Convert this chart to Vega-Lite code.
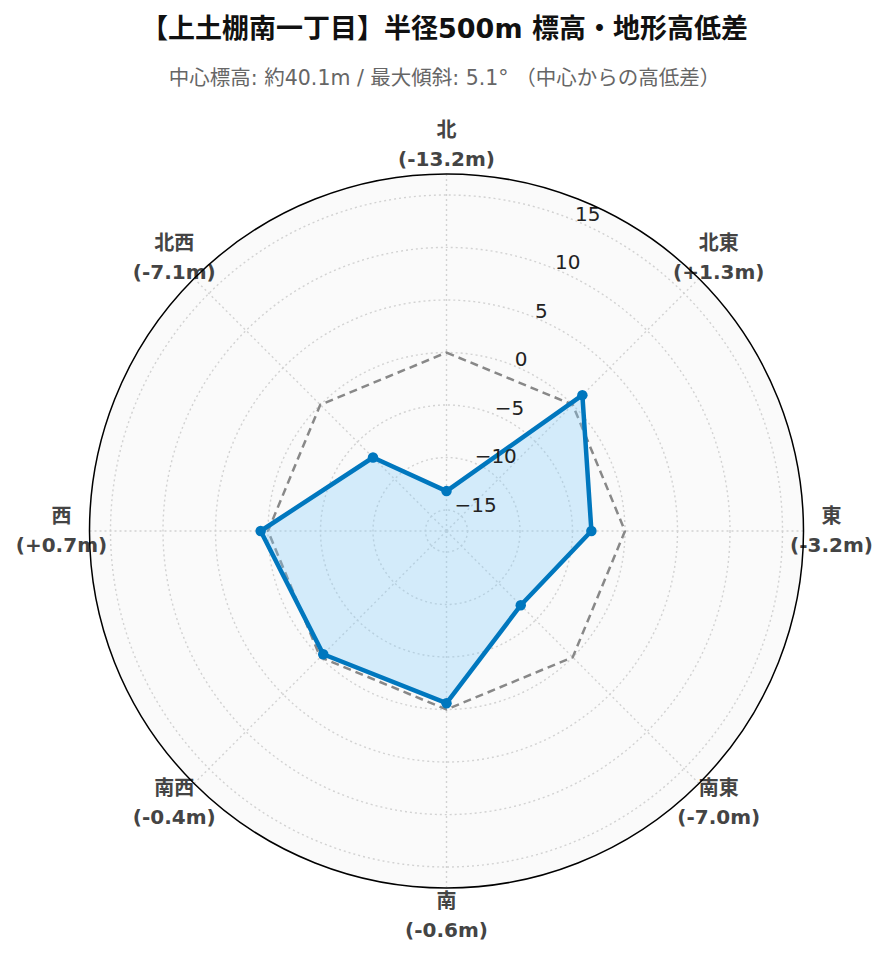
{
  "$schema": "https://vega.github.io/schema/vega-lite/v6.json",
  "width": 889,
  "height": 862,
  "autosize": {"type": "none"},
  "padding": {"top": 100, "left": 0, "right": 0, "bottom": 0},
  "background": "white",
  "config": {"view": {"stroke": null}, "font": "DejaVu Sans"},
  "title": {
    "text": "【上土棚南一丁目】半径500m 標高・地形高低差",
    "subtitle": "中心標高: 約40.1m / 最大傾斜: 5.1° （中心からの高低差）",
    "anchor": "middle",
    "font": "DejaVu Sans, Noto Sans CJK JP",
    "fontSize": 27,
    "fontWeight": "bold",
    "color": "#111111",
    "subtitleFont": "DejaVu Sans, Noto Sans CJK JP",
    "subtitleFontSize": 20.5,
    "subtitleColor": "#666666",
    "subtitlePadding": 25,
    "offset": 10
  },
  "datasets": {
    "dirs": [
      {"dir": "北", "angle": 0, "value": -13.2, "ref": 0, "label": "(-13.2m)"},
      {"dir": "北東", "angle": 45, "value": 1.3, "ref": 0, "label": "(+1.3m)"},
      {"dir": "東", "angle": 90, "value": -3.2, "ref": 0, "label": "(-3.2m)"},
      {"dir": "南東", "angle": 135, "value": -7.0, "ref": 0, "label": "(-7.0m)"},
      {"dir": "南", "angle": 180, "value": -0.6, "ref": 0, "label": "(-0.6m)"},
      {"dir": "南西", "angle": 225, "value": -0.4, "ref": 0, "label": "(-0.4m)"},
      {"dir": "西", "angle": 270, "value": 0.7, "ref": 0, "label": "(+0.7m)"},
      {"dir": "北西", "angle": 315, "value": -7.1, "ref": 0, "label": "(-7.1m)"}
    ],
    "ticks": [
      {"tick": -15, "label": "−15"},
      {"tick": -10, "label": "−10"},
      {"tick": -5, "label": "−5"},
      {"tick": 0, "label": "0"},
      {"tick": 5, "label": "5"},
      {"tick": 10, "label": "10"},
      {"tick": 15, "label": "15"}
    ],
    "rim": [{"edge": 17}]
  },
  "layer": [
    {
      "data": {"name": "rim"},
      "transform": [
        {"calculate": "datum.edge + 17", "as": "r"},
        {"calculate": "datum.r * datum.r", "as": "r2"},
        {"calculate": "0", "as": "cx"}
      ],
      "mark": {"type": "point", "shape": "circle", "filled": true, "fill": "#fafafa", "opacity": 1, "strokeWidth": 0},
      "encoding": {
        "x": {"field": "cx", "type": "quantitative", "scale": {"domain": [-42.524, 42.143], "nice": false, "zero": false}, "axis": null},
        "y": {"field": "cx", "type": "quantitative", "scale": {"domain": [-41.048, 41.048], "nice": false, "zero": false}, "axis": null},
        "size": {"field": "r2", "type": "quantitative", "scale": {"type": "linear", "domain": [0, 1200], "range": [0, 529200], "zero": true}, "legend": null}
      }
    },
    {
      "data": {"name": "ticks"},
      "transform": [
        {"calculate": "datum.tick + 17", "as": "r"},
        {"calculate": "datum.r * datum.r", "as": "r2"},
        {"calculate": "0", "as": "cx"}
      ],
      "mark": {"type": "point", "shape": "circle", "filled": false, "stroke": "#d2d2d2", "strokeWidth": 1.4, "strokeDash": [2, 3], "opacity": 1},
      "encoding": {
        "x": {"field": "cx", "type": "quantitative", "scale": {"domain": [-42.524, 42.143], "nice": false, "zero": false}, "axis": null},
        "y": {"field": "cx", "type": "quantitative", "scale": {"domain": [-41.048, 41.048], "nice": false, "zero": false}, "axis": null},
        "size": {"field": "r2", "type": "quantitative", "scale": {"type": "linear", "domain": [0, 1200], "range": [0, 529200], "zero": true}, "legend": null}
      }
    },
    {
      "data": {"name": "dirs"},
      "transform": [
        {"calculate": "datum.angle * PI / 180", "as": "rad"},
        {"calculate": "34 * sin(datum.rad)", "as": "xs"},
        {"calculate": "34 * cos(datum.rad)", "as": "ys"},
        {"calculate": "0", "as": "cx"}
      ],
      "mark": {"type": "rule", "stroke": "#d2d2d2", "strokeWidth": 1.4, "strokeDash": [2, 3]},
      "encoding": {
        "x": {"field": "cx", "type": "quantitative", "scale": {"domain": [-42.524, 42.143], "nice": false, "zero": false}, "axis": null},
        "y": {"field": "cx", "type": "quantitative", "scale": {"domain": [-41.048, 41.048], "nice": false, "zero": false}, "axis": null},
        "x2": {"field": "xs"},
        "y2": {"field": "ys"}
      }
    },
    {
      "data": {"name": "dirs"},
      "transform": [
        {"calculate": "datum.angle * PI / 180", "as": "rad"},
        {"calculate": "(datum.ref + 17) * sin(datum.rad)", "as": "px"},
        {"calculate": "(datum.ref + 17) * cos(datum.rad)", "as": "py"}
      ],
      "mark": {"type": "line", "interpolate": "linear-closed", "stroke": "#888888", "strokeWidth": 2.5, "strokeDash": [8, 5]},
      "encoding": {
        "x": {"field": "px", "type": "quantitative", "scale": {"domain": [-42.524, 42.143], "nice": false, "zero": false}, "axis": null},
        "y": {"field": "py", "type": "quantitative", "scale": {"domain": [-41.048, 41.048], "nice": false, "zero": false}, "axis": null},
        "order": {"field": "angle", "type": "quantitative"}
      }
    },
    {
      "data": {"name": "dirs"},
      "transform": [
        {"calculate": "datum.angle * PI / 180", "as": "rad"},
        {"calculate": "(datum.value + 17) * sin(datum.rad)", "as": "px"},
        {"calculate": "(datum.value + 17) * cos(datum.rad)", "as": "py"}
      ],
      "mark": {"type": "line", "interpolate": "linear-closed", "stroke": "#0077be", "strokeWidth": 4.5, "fill": "#87cefa", "fillOpacity": 0.34, "strokeJoin": "round"},
      "encoding": {
        "x": {"field": "px", "type": "quantitative", "scale": {"domain": [-42.524, 42.143], "nice": false, "zero": false}, "axis": null},
        "y": {"field": "py", "type": "quantitative", "scale": {"domain": [-41.048, 41.048], "nice": false, "zero": false}, "axis": null},
        "order": {"field": "angle", "type": "quantitative"}
      }
    },
    {
      "data": {"name": "dirs"},
      "transform": [
        {"calculate": "datum.angle * PI / 180", "as": "rad"},
        {"calculate": "(datum.value + 17) * sin(datum.rad)", "as": "px"},
        {"calculate": "(datum.value + 17) * cos(datum.rad)", "as": "py"}
      ],
      "mark": {"type": "point", "shape": "circle", "filled": true, "color": "#0077be", "opacity": 1, "size": 110},
      "encoding": {
        "x": {"field": "px", "type": "quantitative", "scale": {"domain": [-42.524, 42.143], "nice": false, "zero": false}, "axis": null},
        "y": {"field": "py", "type": "quantitative", "scale": {"domain": [-41.048, 41.048], "nice": false, "zero": false}, "axis": null}
      }
    },
    {
      "data": {"name": "ticks"},
      "transform": [
        {"calculate": "datum.tick + 17", "as": "r"},
        {"calculate": "datum.r * sin(PI / 8)", "as": "tx"},
        {"calculate": "datum.r * cos(PI / 8)", "as": "ty"}
      ],
      "mark": {"type": "text", "align": "left", "baseline": "alphabetic", "fontSize": 20, "color": "#222222", "font": "DejaVu Sans"},
      "encoding": {
        "x": {"field": "tx", "type": "quantitative", "scale": {"domain": [-42.524, 42.143], "nice": false, "zero": false}, "axis": null},
        "y": {"field": "ty", "type": "quantitative", "scale": {"domain": [-41.048, 41.048], "nice": false, "zero": false}, "axis": null},
        "text": {"field": "label", "type": "nominal"}
      }
    },
    {
      "data": {"name": "dirs"},
      "transform": [
        {"calculate": "datum.angle * PI / 180", "as": "rad"},
        {"calculate": "36.67 * sin(datum.rad)", "as": "lx"},
        {"calculate": "36.67 * cos(datum.rad)", "as": "ly"},
        {"calculate": "datum.dir + '\\n' + datum.label", "as": "txt"}
      ],
      "mark": {"type": "text", "align": "center", "baseline": "middle", "lineBreak": "\n", "lineHeight": 29, "dy": -14.5, "fontSize": 20, "fontWeight": "bold", "color": "#444444", "font": "DejaVu Sans, Noto Sans CJK JP"},
      "encoding": {
        "x": {"field": "lx", "type": "quantitative", "scale": {"domain": [-42.524, 42.143], "nice": false, "zero": false}, "axis": null},
        "y": {"field": "ly", "type": "quantitative", "scale": {"domain": [-41.048, 41.048], "nice": false, "zero": false}, "axis": null},
        "text": {"field": "txt", "type": "nominal"}
      }
    },
    {
      "data": {"name": "rim"},
      "transform": [
        {"calculate": "datum.edge + 17", "as": "r"},
        {"calculate": "datum.r * datum.r", "as": "r2"},
        {"calculate": "0", "as": "cx"}
      ],
      "mark": {"type": "point", "shape": "circle", "filled": false, "stroke": "#000000", "strokeWidth": 1.5, "opacity": 1},
      "encoding": {
        "x": {"field": "cx", "type": "quantitative", "scale": {"domain": [-42.524, 42.143], "nice": false, "zero": false}, "axis": null},
        "y": {"field": "cx", "type": "quantitative", "scale": {"domain": [-41.048, 41.048], "nice": false, "zero": false}, "axis": null},
        "size": {"field": "r2", "type": "quantitative", "scale": {"type": "linear", "domain": [0, 1200], "range": [0, 529200], "zero": true}, "legend": null}
      }
    }
  ]
}
